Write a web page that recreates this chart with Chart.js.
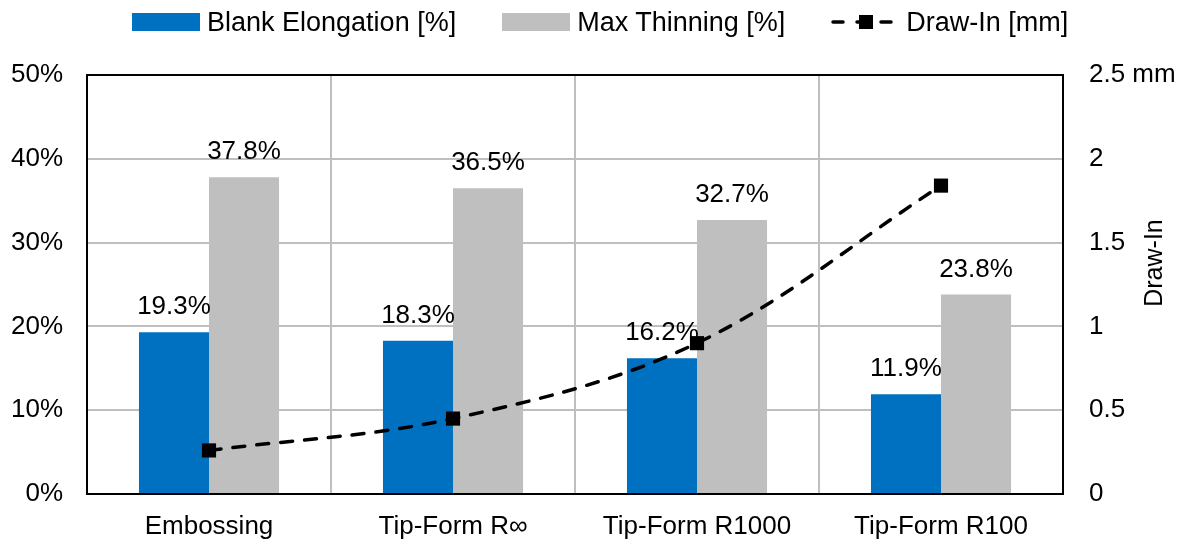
<!DOCTYPE html>
<html lang="en">
<head>
    <meta charset="UTF-8">
    <title>Blank Elongation, Max Thinning and Draw-In</title>
    <style>
        body {
            margin: 0;
            background: #fff;
            font-family: Arial, "Liberation Sans", sans-serif;
        }

        #wrap {
            position: relative;
            width: 1181px;
            height: 540px;
        }

        #legend {
            position: absolute;
            left: 132px;
            top: 4px;
            height: 36px;
            display: flex;
            align-items: center;
            gap: 46px;
            font-size: 27px;
            color: #000;
        }

        .item {
            display: flex;
            align-items: center;
            gap: 7px;
        }

        .box {
            width: 68px;
            height: 18px;
        }
    </style>
</head>
<body>
    <div id="wrap">
        <canvas id="chart" width="1181" height="540"></canvas>
        <div id="legend">
            <div class="item"><span class="box" style="background:#0070C0"></span><span>Blank Elongation [%]</span></div>
            <div class="item"><span class="box" style="background:#BFBFBF"></span><span>Max Thinning [%]</span></div>
            <div class="item" style="gap:5px">
                <svg width="70" height="20">
                    <line x1="2" y1="10" x2="68" y2="10" stroke="#000" stroke-width="3.5" stroke-linecap="round" stroke-dasharray="10 14"></line>
                    <rect x="28" y="3" width="14" height="14" fill="#000"></rect>
                </svg>
                <span>Draw-In [mm]</span>
            </div>
        </div>
    </div>

    <script src="https://cdn.jsdelivr.net/npm/chart.js"></script>
    <script>
        const categories = ['Embossing', 'Tip-Form R\u221E', 'Tip-Form R1000', 'Tip-Form R100'];
        const blankElongation = [19.3, 18.3, 16.2, 11.9];
        const maxThinning = [37.8, 36.5, 32.7, 23.8];
        const drawIn = [0.26, 0.45, 0.90, 1.84];
        const mmTickLabels = ['0', '0.5', '1', '1.5', '2', '2.5 mm'];

        Chart.defaults.font.family = 'Arial, "Liberation Sans", sans-serif';
        Chart.defaults.font.size = 26;
        Chart.defaults.color = '#000';

        // value labels above the bars, drawn before the line so the line sits on top
        const barLabels = {
            id: 'barLabels',
            afterDatasetDraw(chart, args) {
                const ds = chart.data.datasets[args.index];
                if (ds.type === 'line') return;
                const ctx = chart.ctx;
                ctx.save();
                ctx.font = '26px Arial, "Liberation Sans", sans-serif';
                ctx.fillStyle = '#000';
                ctx.textAlign = 'center';
                ctx.textBaseline = 'alphabetic';
                args.meta.data.forEach((el, i) => {
                    ctx.fillText(ds.data[i].toFixed(1) + '%', el.x, el.y - 18);
                });
                ctx.restore();
            }
        };

        // frame round the plot area and the right axis title
        const frame = {
            id: 'frame',
            afterDraw(chart) {
                const a = chart.chartArea;
                const ctx = chart.ctx;
                ctx.save();
                ctx.strokeStyle = '#000';
                ctx.lineWidth = 2;
                ctx.strokeRect(a.left, a.top, a.right - a.left, a.bottom - a.top);
                ctx.translate(1155, 263);
                ctx.rotate(-Math.PI / 2);
                ctx.font = '25px Arial, "Liberation Sans", sans-serif';
                ctx.fillStyle = '#000';
                ctx.textAlign = 'center';
                ctx.textBaseline = 'middle';
                ctx.fillText('Draw-In', 0, 0);
                ctx.restore();
            }
        };

        new Chart(document.getElementById('chart'), {
            data: {
                labels: categories,
                datasets: [
                    {
                        type: 'line',
                        label: 'Draw-In [mm]',
                        data: drawIn,
                        yAxisID: 'y1',
                        order: 0,
                        borderColor: '#000',
                        borderWidth: 3.5,
                        borderDash: [12, 12],
                        borderCapStyle: 'round',
                        tension: 0.35,
                        fill: false,
                        pointStyle: 'rect',
                        pointRadius: 10,
                        pointBackgroundColor: '#000',
                        pointBorderWidth: 0
                    },
                    {
                        type: 'bar',
                        label: 'Blank Elongation [%]',
                        data: blankElongation,
                        yAxisID: 'y',
                        order: 1,
                        backgroundColor: '#0070C0',
                        categoryPercentage: 0.574,
                        barPercentage: 1.0
                    },
                    {
                        type: 'bar',
                        label: 'Max Thinning [%]',
                        data: maxThinning,
                        yAxisID: 'y',
                        order: 1,
                        backgroundColor: '#BFBFBF',
                        categoryPercentage: 0.574,
                        barPercentage: 1.0
                    }
                ]
            },
            options: {
                responsive: false,
                animation: false,
                layout: {
                    padding: { top: 75, left: 0, right: 0, bottom: 0 }
                },
                plugins: {
                    legend: { display: false },
                    tooltip: { enabled: false }
                },
                scales: {
                    x: {
                        grid: { offset: true, color: '#BFBFBF', lineWidth: 2, drawTicks: false },
                        border: { color: '#000', width: 2 },
                        ticks: { padding: 17, maxRotation: 0 },
                        afterFit(s) { s.height = 46; }
                    },
                    y: {
                        position: 'left',
                        min: 0,
                        max: 50,
                        grid: { color: '#BFBFBF', lineWidth: 2, drawTicks: false },
                        border: { color: '#000', width: 2 },
                        ticks: {
                            stepSize: 10,
                            padding: 24,
                            callback: v => v + '%'
                        },
                        afterFit(s) { s.width = 87; }
                    },
                    y1: {
                        position: 'right',
                        min: 0,
                        max: 2.5,
                        grid: { display: false, drawTicks: false },
                        border: { color: '#000', width: 2 },
                        ticks: {
                            stepSize: 0.5,
                            padding: 26,
                            callback: (v, i) => mmTickLabels[i]
                        },
                        afterFit(s) { s.width = 118; }
                    }
                }
            },
            plugins: [barLabels, frame]
        });
    </script>
</body>
</html>
